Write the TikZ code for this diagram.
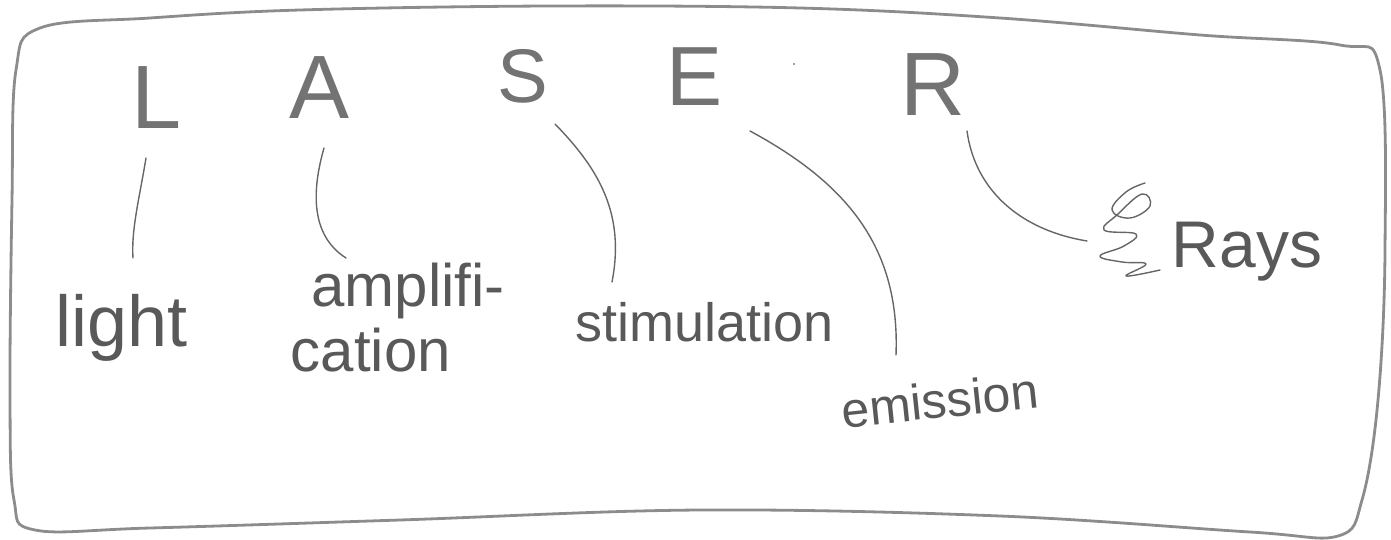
\documentclass[tikz,border=0pt]{standalone}
\usepackage{fontspec}
\setmainfont{Liberation Sans}
\begin{document}
\begin{tikzpicture}[x=0.5pt,y=-0.5pt,
  pencil/.style={draw=black!60, line width=0.7pt, line cap=round, line join=round},
  framestroke/.style={draw=black!45, line width=1.4pt, line cap=round, line join=round},
  bigletter/.style={inner sep=0pt, text=black!55, font=\fontsize{45}{45}\selectfont},
  word/.style={inner sep=0pt, text=black!65},
  conn/.style={pencil}]
\useasboundingbox (0,0) rectangle (1391,540);
% hand-drawn frame
\draw[framestroke] plot[smooth cycle, tension=0.6] coordinates {
  (40,28) (150,18) (300,10) (550,6) (800,8) (1000,18) (1200,35) (1340,45)
  (1380,70) (1385,250) (1378,400) (1362,500) (1338,536)
  (1250,532) (1000,516) (700,510) (400,520) (150,528) (35,530)
  (14,500) (10,400) (12,200) (16,70)};
% letters
\node[bigletter] (L) at (157,98) {L};
\node[bigletter] (A) at (320,88) {A};
\node[bigletter, font=\fontsize{38}{38}\selectfont] (S) at (523,76) {S};
\node[bigletter, font=\fontsize{42}{42}\selectfont] (E) at (695,77) {E};
\node[bigletter] (R) at (933,85) {R};
\fill[black!50] (794,64) circle (1.2);
% words
\node[word, font=\fontsize{36}{36}\selectfont] (light) at (122,328) {light};
\node[word, font=\fontsize{30}{30}\selectfont] (amp) at (408,291) {amplifi-};
\node[word, font=\fontsize{30}{30}\selectfont] (cation) at (371,350) {cation};
\node[word, font=\fontsize{27}{27}\selectfont] (stim) at (705,322) {stimulation};
\node[word, font=\fontsize{25}{25}\selectfont, rotate=6] (emis) at (940,400) {emission};
\node[word, font=\fontsize{33}{33}\selectfont] (rays) at (1247,252) {Rays};
% crossed-out scribble before "Rays"
\draw[pencil] plot[smooth, tension=0.7] coordinates {
  (1145,183) (1126,192) (1112,210) (1130,218) (1150,206) (1142,194)
  (1118,214) (1104,230) (1136,234) (1124,246) (1100,256) (1122,262)
  (1146,264) (1126,276) (1160,270)};
% connectors
\draw[conn] ([shift={(-11,60)}]L.center) .. controls (140,195) and (131,230) .. ([shift={(11,-70)}]light.center);
\draw[conn] ([shift={(4,60)}]A.center) .. controls (312,190) and (310,235) .. ([shift={(-62,-33)}]amp.center);
\draw[conn] ([shift={(32,48)}]S.center) .. controls (600,170) and (625,215) .. ([shift={(-93,-40)}]stim.center);
\draw[conn] ([shift={(55,54)}]E.center) .. controls (850,185) and (900,250) .. ([shift={(-44,-45)}]emis.center);
\draw[conn] ([shift={(34,46)}]R.center) .. controls (975,190) and (1020,230) .. ([shift={(-160,-11)}]rays.center);
\end{tikzpicture}
\end{document}
